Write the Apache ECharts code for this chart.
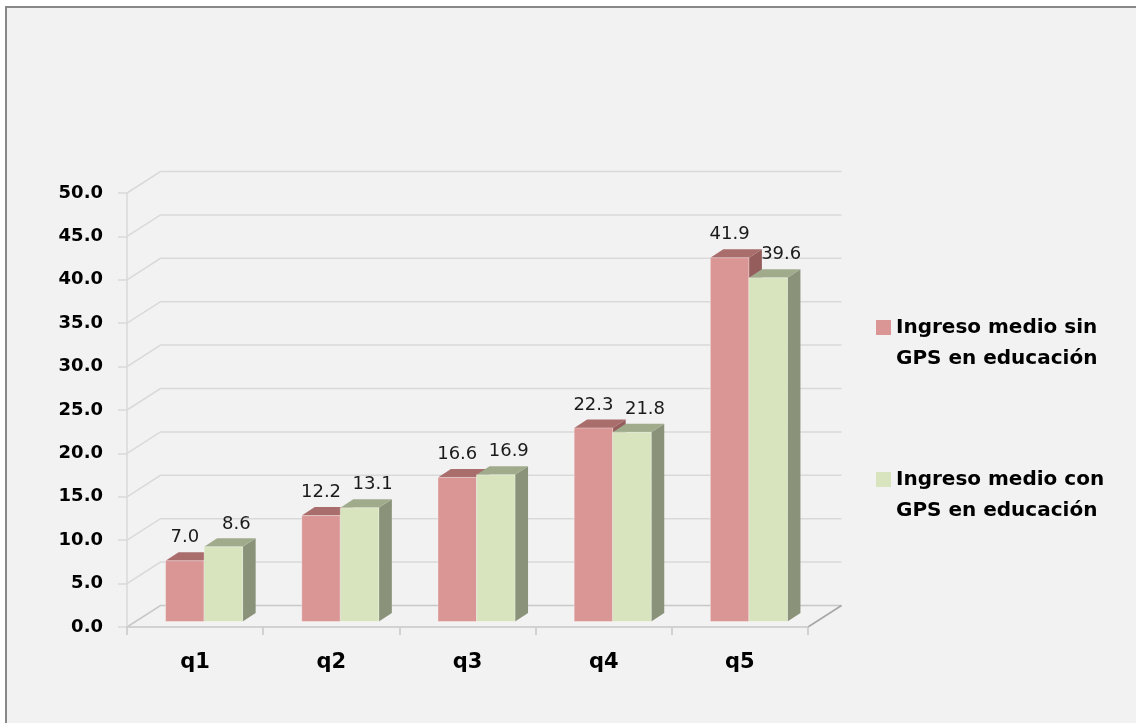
<!DOCTYPE html>
<html>
<head>
<meta charset="utf-8">
<script src="https://cdn.jsdelivr.net/npm/echarts@6/dist/echarts.min.js"></script>
<style>
  html, body { margin: 0; padding: 0; background: #ffffff; }
  #frame {
    position: absolute; left: 5px; top: 6px; width: 1131px; height: 717px;
    background: #f2f2f2; border-left: 2px solid #888888; border-top: 2px solid #888888;
  }
  #chart { position: absolute; left: 0; top: 0; width: 1136px; height: 723px; }
</style>
</head>
<body>
<div id="frame"></div>
<div id="chart"></div>
<script>
// Quintiles and mean income per quintile, without / with GPS in education
const categories = ['q1', 'q2', 'q3', 'q4', 'q5'];
const ingresoSinGPS = [7.0, 12.2, 16.6, 22.3, 41.9];
const ingresoConGPS = [8.6, 13.1, 16.9, 21.8, 39.6];
const seriesNames = ['Ingreso medio sin\nGPS en educación', 'Ingreso medio con\nGPS en educación'];
const yTicks = [0, 5, 10, 15, 20, 25, 30, 35, 40, 45, 50];

const FONT = '"DejaVu Sans", sans-serif';

// Pseudo-3D geometry (pixels)
const WALL_DX = 33.5, WALL_DY = -21.5;   // depth of the back wall
const FRONT_DX = 9, FRONT_DY = -5.5;     // bars' front plane inside the floor
const BAR_DX = 13, BAR_DY = -8.5;        // bar depth
const BAR_FRAC = 0.283;                  // bar width as share of category band

const palettes = [
  { front: '#d99694', top: '#a96d6c', side: '#955e5d' },
  { front: '#d7e4bd', top: '#a0ab8c', side: '#8a9279' }
];
const LABEL_DX = [0, 13];

function barRenderer(slot) {
  const pal = palettes[slot];
  return function (params, api) {
    const idx = api.value(0);
    const v = api.value(1);
    const base = api.coord([idx, 0]);
    const top = api.coord([idx, v]);
    const band = api.size([1, 0])[0];
    const w = band * BAR_FRAC;
    const cx = base[0] + FRONT_DX;
    const x0 = cx - w + slot * w;
    const x1 = x0 + w;
    const yb = base[1] + FRONT_DY;
    const yt = top[1] + FRONT_DY;
    return {
      type: 'group',
      children: [
        { type: 'polygon', shape: { points: [[x1, yt], [x1 + BAR_DX, yt + BAR_DY], [x1 + BAR_DX, yb + BAR_DY], [x1, yb]] },
          style: { fill: pal.side } },
        { type: 'polygon', shape: { points: [[x0, yt], [x1, yt], [x1 + BAR_DX, yt + BAR_DY], [x0 + BAR_DX, yt + BAR_DY]] },
          style: { fill: pal.top } },
        { type: 'rect', shape: { x: x0, y: yt, width: w, height: yb - yt },
          style: { fill: pal.front, stroke: 'rgba(255,255,255,0.35)', lineWidth: 1 } },
        { type: 'text', z2: 10, style: {
            x: (x0 + x1) / 2 + LABEL_DX[slot], y: yt - 23, text: v.toFixed(1),
            align: 'center', verticalAlign: 'middle',
            fill: '#1a1a1a', font: '18px ' + FONT } }
      ]
    };
  };
}

function wallRenderer(params, api) {
  const cs = params.coordSys;
  const v = api.value(1);
  const y = api.coord([0, v])[1];
  const xl = cs.x, xr = cs.x + cs.width;
  const children = [{
    type: 'polyline',
    shape: { points: [[xl, y], [xl + WALL_DX, y + WALL_DY], [xr + WALL_DX, y + WALL_DY]] },
    style: { stroke: v === 0 ? '#c8c8c8' : '#d9d9d9', lineWidth: 1.5, fill: null }
  }];
  if (v === 0) {
    children.push({
      type: 'line',
      shape: { x1: xr, y1: y, x2: xr + WALL_DX, y2: y + WALL_DY },
      style: { stroke: '#a6a6a6', lineWidth: 1.5 }
    });
  }
  return { type: 'group', children: children };
}

const chart = echarts.init(document.getElementById('chart'), null, { renderer: 'canvas' });
chart.setOption({
  backgroundColor: 'transparent',
  animation: false,
  grid: { left: 127, right: 328, top: 193, bottom: 96, containLabel: false },
  legend: {
    orient: 'vertical',
    left: 876, top: 281, padding: 0,
    itemWidth: 15, itemHeight: 15, itemGap: 59,
    icon: 'rect',
    data: seriesNames,
    // a blank first line keeps the marker level with the first text line
    formatter: function (name) { return '{gap|}\n' + name; },
    textStyle: {
      fontFamily: 'DejaVu Sans', fontWeight: 'bold', fontSize: 20, color: '#000',
      lineHeight: 31,
      rich: { gap: { height: 31, lineHeight: 31, fontSize: 20 } }
    }
  },
  xAxis: {
    type: 'category',
    data: categories,
    axisLine: { lineStyle: { color: '#c8c8c8', width: 1.5 } },
    axisTick: { show: true, length: 8, lineStyle: { color: '#c8c8c8', width: 1.5 } },
    axisLabel: { margin: 25, fontFamily: 'DejaVu Sans', fontWeight: 'bold', fontSize: 21, color: '#000' },
    splitLine: { show: false }
  },
  yAxis: {
    type: 'value',
    min: 0, max: 50, interval: 5,
    axisLine: { show: true, lineStyle: { color: '#d9d9d9', width: 1.5 } },
    axisTick: { show: true, length: 9, lineStyle: { color: '#d9d9d9', width: 1.5 } },
    axisLabel: {
      margin: 24, fontFamily: 'DejaVu Sans', fontWeight: 'bold', fontSize: 18, color: '#000',
      formatter: function (v) { return v.toFixed(1); }
    },
    splitLine: { show: false }
  },
  series: [
    {
      name: 'walls', type: 'custom', silent: true, z: 0, clip: false,
      renderItem: wallRenderer,
      data: yTicks.map(function (v) { return [0, v]; })
    },
    {
      name: seriesNames[0], type: 'custom', z: 2, clip: false,
      itemStyle: { color: palettes[0].front },
      renderItem: barRenderer(0),
      data: ingresoSinGPS.map(function (v, i) { return [i, v]; })
    },
    {
      name: seriesNames[1], type: 'custom', z: 3, clip: false,
      itemStyle: { color: palettes[1].front },
      renderItem: barRenderer(1),
      data: ingresoConGPS.map(function (v, i) { return [i, v]; })
    }
  ]
});
</script>
</body>
</html>
